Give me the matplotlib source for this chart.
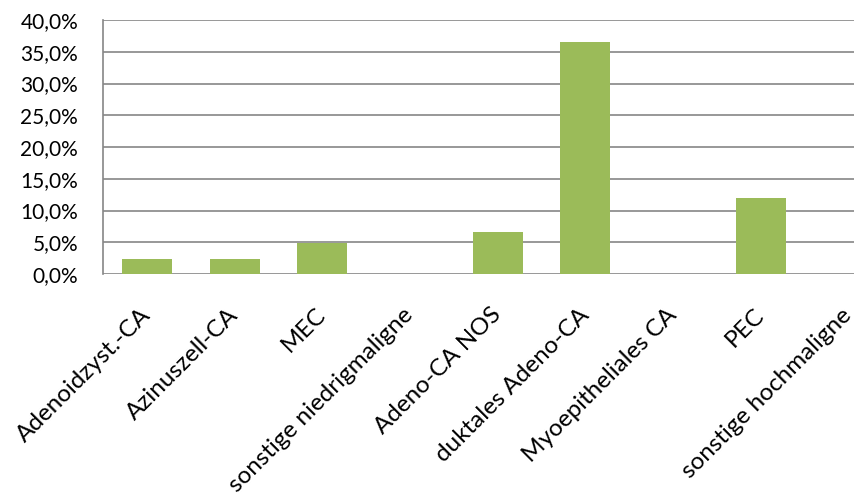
import numpy as np
import matplotlib
matplotlib.use("Agg")
import matplotlib.pyplot as plt
from matplotlib.ticker import FuncFormatter

categories = ["Adenoidzyst.-CA", "Azinuszell-CA", "MEC", "sonstige niedrigmaligne",
              "Adeno-CA NOS", "duktales Adeno-CA", "Myoepitheliales CA", "PEC",
              "sonstige hochmaligne"]
shares = [2.4, 2.4, 4.9, 0.0, 6.7, 36.6, 0.0, 12.0, 0.0]   # percent of cases
y_ticks = [0, 5, 10, 15, 20, 25, 30, 35, 40]

GREEN = "#9bbb59"
GRID = "#868686"

plt.rcParams["font.family"] = ["Lato", "DejaVu Sans"]

fig = plt.figure(figsize=(8.59, 5.01), dpi=100)
ax = fig.add_axes([0.120, 0.453, 0.874, 0.507])

x = np.arange(len(categories))
ax.bar(x, shares, width=0.57, color=GREEN, zorder=3)

ax.set_ylim(0, 40)
ax.set_yticks(y_ticks)
ax.yaxis.set_major_formatter(FuncFormatter(lambda v, _: f"{v:.1f}%".replace(".", ",")))
ax.set_xlim(-0.5, 8.06)
ax.set_xticks(x)
ax.set_xticklabels(categories, rotation=45, ha="right", va="center",
                   rotation_mode="anchor", fontsize=17.5)

ax.grid(axis="y", color=GRID, linewidth=1.2, zorder=0)
ax.set_axisbelow(True)
for s in ("top", "right", "bottom"):
    ax.spines[s].set_visible(False)
ax.spines["left"].set_color(GRID)
ax.spines["left"].set_linewidth(1.2)
ax.tick_params(axis="both", length=0, colors="#000000")
ax.tick_params(axis="y", pad=18, labelsize=15)
ax.tick_params(axis="x", pad=27)

fig.savefig("out.png", dpi=100)
